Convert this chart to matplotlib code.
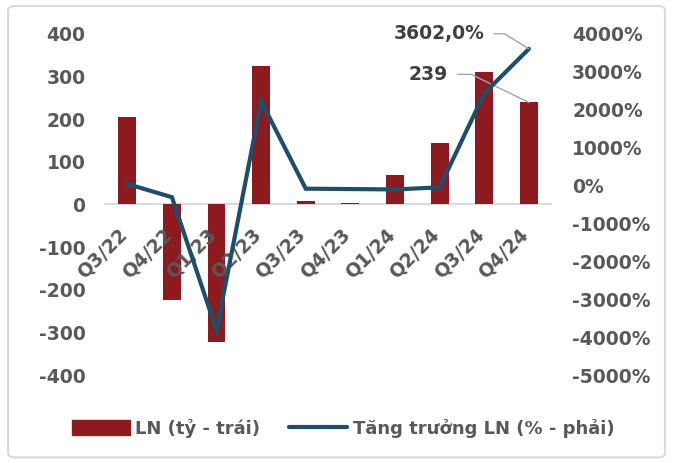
import matplotlib.pyplot as plt
import matplotlib.patches as mpatches
import matplotlib.transforms as mtransforms
from matplotlib.lines import Line2D
import numpy as np

quarters = ['Q3/22', 'Q4/22', 'Q1/23', 'Q2/23', 'Q3/23', 'Q4/23',
            'Q1/24', 'Q2/24', 'Q3/24', 'Q4/24']
profit = [204, -225, -322, 325, 9, 4, 70, 143, 310, 239]          # LN (tỷ)
growth = [40, -310, -3820, 2220, -85, -95, -105, -50, 2430, 3602]  # %

bar_color = '#8C1A1F'
line_color = '#1D4F6B'
text_color = '#595959'

plt.rcParams['font.family'] = ['DejaVu Sans']
plt.rcParams['font.weight'] = 'bold'
plt.rcParams['axes.unicode_minus'] = False

fig = plt.figure(figsize=(6.73, 4.63), dpi=100)
ax = fig.add_axes([0.156, 0.190, 0.663, 0.737])
ax2 = ax.twinx()

x = np.arange(len(quarters))
ax.bar(x, profit, width=0.4, color=bar_color, zorder=2)
ax2.plot(x, growth, color=line_color, lw=3, solid_capstyle='round',
         solid_joinstyle='miter', zorder=3)

for a in (ax, ax2):
    for s in a.spines.values():
        s.set_visible(False)
# zero line of the left axis
ax.spines['bottom'].set_position(('data', 0))
ax.spines['bottom'].set_visible(True)
ax.spines['bottom'].set_color('#D9D9D9')
ax.spines['bottom'].set_linewidth(1.5)
ax.spines['bottom'].set_zorder(1)

ax.set_xlim(-0.5, len(quarters) - 0.5)
ax.set_ylim(-400, 400)
ax.set_yticks(np.arange(-400, 401, 100))
ax2.set_ylim(-5000, 4000)
ax2.set_yticks(np.arange(-5000, 4001, 1000))
ax2.set_yticklabels([f'{v}%' for v in range(-5000, 4001, 1000)])

# category labels drawn from the top axes so they sit over bars and line
ax2.xaxis.set_visible(True)
ax2.spines['bottom'].set_position(('axes', 0.5))
ax.set_xticks(x)
ax.tick_params(axis='x', labelbottom=False)
ax2.tick_params(axis='x', labelbottom=True)
ax2.set_xticklabels(quarters, rotation=45, ha='right', va='top',
                    rotation_mode='anchor')

for a in (ax, ax2):
    a.tick_params(length=0, colors=text_color, labelsize=13.5)
ax.tick_params(axis='y', pad=14)
ax2.tick_params(axis='y', pad=15)
ax2.tick_params(axis='x', pad=15)
shift = mtransforms.ScaledTranslation(-0.10, 0, fig.dpi_scale_trans)
for lab in ax2.get_xticklabels():
    lab.set_transform(lab.get_transform() + shift)
ax2.set_zorder(ax.get_zorder() + 1)
ax2.patch.set_visible(False)

# data labels with leader lines
ax2.annotate('3602,0%', xy=(x[-1], growth[-1]), xytext=(6.98, 4000),
             ha='center', va='center', fontsize=13.5, color='#404040',
             arrowprops=dict(arrowstyle='-', color='#A6A6A6', lw=1,
                             shrinkA=5, shrinkB=0,
                             connectionstyle='angle,angleA=0,angleB=148,rad=0'))
ax.annotate('239', xy=(x[-1], profit[-1]), xytext=(6.75, 305),
            ha='center', va='center', fontsize=13.5, color='#404040',
            arrowprops=dict(arrowstyle='-', color='#A6A6A6', lw=1,
                            shrinkA=5, shrinkB=0,
                            connectionstyle='angle,angleA=0,angleB=154,rad=0'))

handles = [mpatches.Patch(color=bar_color, label='LN (tỷ - trái)'),
           Line2D([], [], color=line_color, lw=3, solid_capstyle='round',
                  label='Tăng trưởng LN (% - phải)')]
leg = fig.legend(handles=handles, loc='center', bbox_to_anchor=(0.51, 0.075),
                 ncol=2, frameon=False, fontsize=13, handlelength=3.2,
                 handleheight=0.9, columnspacing=1.6, handletextpad=0.3)
for t in leg.get_texts():
    t.set_color(text_color)

border = mpatches.FancyBboxPatch((0.012, 0.012), 0.976, 0.975,
                                 boxstyle='round,pad=0,rounding_size=0.01',
                                 transform=fig.transFigure, fill=False,
                                 edgecolor='#D9D9D9', lw=1.5)
fig.patches.append(border)

fig.savefig('out.png', dpi=100)
